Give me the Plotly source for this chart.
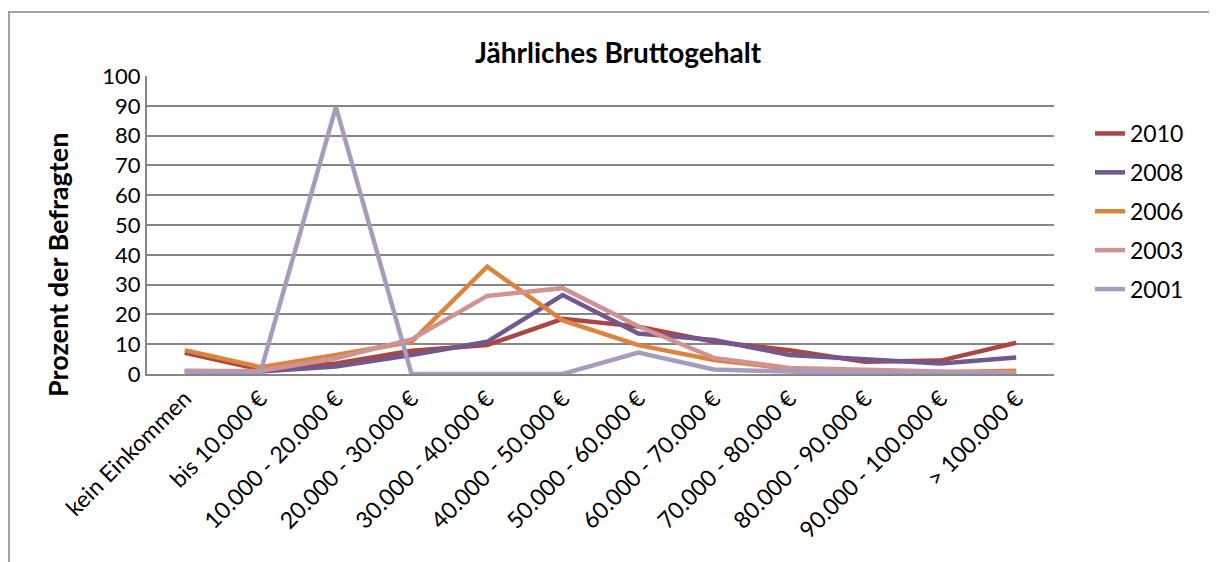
import plotly.graph_objects as go

categories = ["kein Einkommen", "bis 10.000 €", "10.000 - 20.000 €", "20.000 - 30.000 €",
              "30.000 - 40.000 €", "40.000 - 50.000 €", "50.000 - 60.000 €", "60.000 - 70.000 €",
              "70.000 - 80.000 €", "80.000 - 90.000 €", "90.000 - 100.000 €", "> 100.000 €"]

y2010 = [7.1, 1.5, 3.5, 7.8, 9.7, 18.5, 15.9, 10.8, 8.0, 4.1, 4.5, 10.5]
y2008 = [1.0, 0.8, 2.5, 6.4, 10.8, 26.5, 13.6, 11.4, 6.4, 4.9, 3.5, 5.5]
y2006 = [8.0, 2.3, 6.4, 10.8, 36.0, 18.0, 9.7, 4.7, 1.8, 1.0, 0.6, 1.1]
y2003 = [1.0, 1.0, 5.3, 11.6, 26.2, 28.8, 16.0, 5.4, 2.0, 1.3, 0.8, 0.5]
y2001 = [0.5, 0.5, 89.6, 0.0, 0.0, 0.0, 7.2, 1.5, 0.8, 0.5, 0.3, 0.0]

series_names = ["2010", "2008", "2006", "2003", "2001"]
series_values = [y2010, y2008, y2006, y2003, y2001]
colors = ["#AA4643", "#71588F", "#DB843D", "#D19392", "#A99BBD"]

FONT = "Lato, Open Sans, sans-serif"

fig = go.Figure()
for name, vals, col in zip(series_names, series_values, colors):
    fig.add_trace(go.Scatter(x=categories, y=vals, name=name, mode="lines",
                             legendgroup=name,
                             line=dict(color=col, width=4.5)))

# page body has an 8px margin, so figure coordinates are page coordinates - 8
OFF = 8
W, H = 1217 - OFF, 562 - OFF
L, R, T, B = 147 - OFF, 1054 - OFF, 76 - OFF, 374 - OFF
pw, ph = R - L, B - T

def px(x):
    return (x - OFF - L) / pw

def py(y):
    return (B - (y - OFF)) / ph

fig.update_layout(
    width=W, height=H,
    margin=dict(l=L, r=W - R, t=T, b=H - B, autoexpand=False),
    paper_bgcolor="white", plot_bgcolor="white",
    font=dict(family=FONT, size=22, color="black"),
    showlegend=True,
    legend=dict(x=px(1090), y=py(112), xanchor="left", yanchor="top",
                font=dict(size=23, family=FONT), tracegroupgap=6,
                bgcolor="rgba(0,0,0,0)"),
    xaxis=dict(type="category", tickangle=-45, showgrid=False,
               showline=True, linecolor="#868686", linewidth=2,
               ticks="", tickfont=dict(size=23), range=[-0.5, 11.5]),
    yaxis=dict(range=[0, 100], dtick=10, showgrid=True, gridcolor="#868686",
               gridwidth=1.5, showline=True, linecolor="#868686", linewidth=2,
               ticks="", tickfont=dict(size=22), zeroline=False),
    annotations=[
        dict(text="<b>Jährliches Bruttogehalt</b>", x=px(618), y=py(52),
             xref="paper", yref="paper", showarrow=False,
             font=dict(size=28, family=FONT), xanchor="center", yanchor="middle"),
        dict(text="<b>Prozent der Befragten</b>", x=px(57), y=py(265),
             xref="paper", yref="paper", showarrow=False, textangle=-90,
             font=dict(size=27, family=FONT), xanchor="center", yanchor="middle"),
    ],
    shapes=[
        dict(type="line", xref="paper", yref="paper", x0=px(8), x1=px(1217),
             y0=py(12), y1=py(12), line=dict(color="#868686", width=1.5)),
        dict(type="line", xref="paper", yref="paper", x0=px(9), x1=px(9),
             y0=py(12), y1=py(562), line=dict(color="#868686", width=1.5)),
    ],
)

fig.write_html("out.html")
